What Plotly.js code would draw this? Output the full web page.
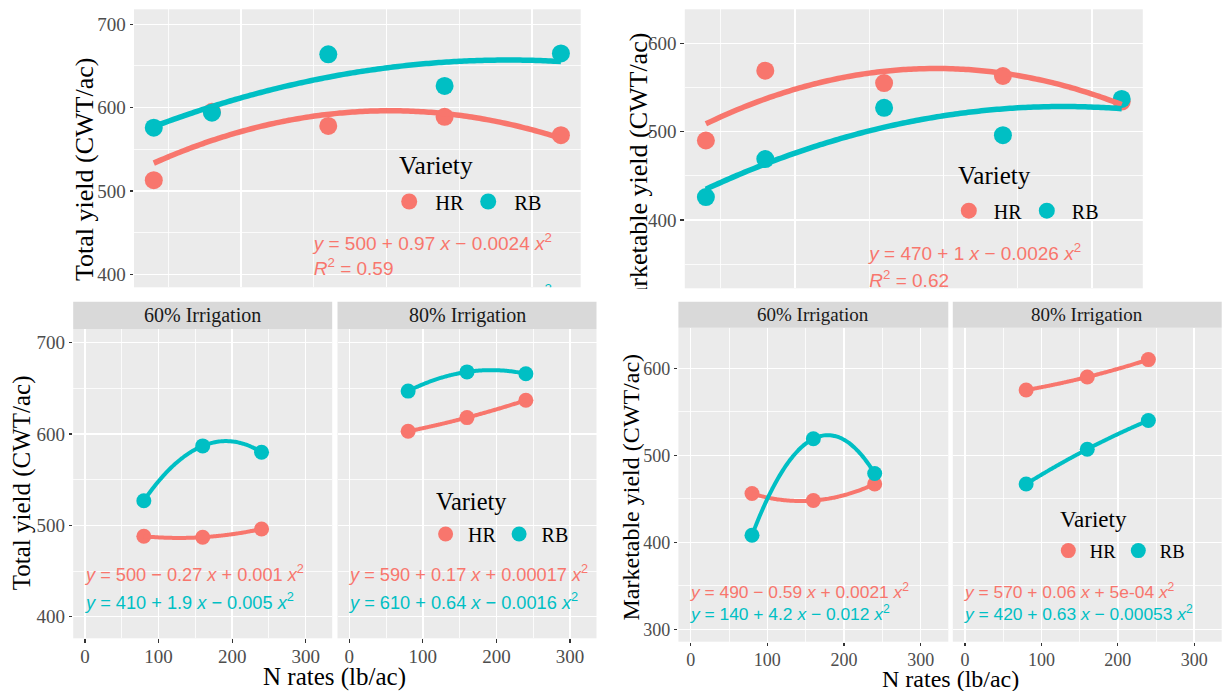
<!DOCTYPE html>
<html><head><meta charset="utf-8">
<script src="https://cdn.plot.ly/plotly-3.0.1.min.js"></script>
<style>
body{margin:0;background:#fff}
#wrap{position:relative;width:1225px;height:691px}
#chart{width:1225px;height:691px}
#mask{position:absolute;left:614px;top:289px;width:50px;height:40px;background:#fff}
</style>
</head><body><div id="wrap"><div id="chart"></div><div id="mask"></div></div>
<script>
// ---------------- data ----------------
const varieties = ['HR', 'RB'];
const topN = [40, 80, 160, 240, 320];
const totalTopHR = [513, 595, 578, 589, 567];
const totalTopRB = [576, 594, 664, 626, 665];
const mktTopHR = [490, 569, 555, 563, 534];
const mktTopRB = [426, 469, 527, 496, 537];
const facetN = [80, 160, 240];
const facetLabels = ['60% Irrigation', '80% Irrigation'];
const totalHR60 = [488, 487, 496];
const totalRB60 = [527, 587, 580];
const totalHR80 = [603, 618, 637];
const totalRB80 = [647, 668, 666];
const mktHR60 = [456, 448, 467];
const mktRB60 = [408, 519, 479];
const mktHR80 = [575, 590, 610];
const mktRB80 = [467, 507, 540];
const eqTotalTop = ['<i>y</i> = 500 + 0.97 <i>x</i> − 0.0024 <i>x</i><sup>2</sup>', '<i>R</i><sup>2</sup> = 0.59', '<i>y</i> = 550 + 0.77 <i>x</i> − 0.0014 <i>x</i><sup>2</sup>'];
const eqMktTop = ['<i>y</i> = 470 + 1 <i>x</i> − 0.0026 <i>x</i><sup>2</sup>', '<i>R</i><sup>2</sup> = 0.62'];
const eqTotal60 = ['<i>y</i> = 500 − 0.27 <i>x</i> + 0.001 <i>x</i><sup>2</sup>', '<i>y</i> = 410 + 1.9 <i>x</i> − 0.005 <i>x</i><sup>2</sup>'];
const eqTotal80 = ['<i>y</i> = 590 + 0.17 <i>x</i> + 0.00017 <i>x</i><sup>2</sup>', '<i>y</i> = 610 + 0.64 <i>x</i> − 0.0016 <i>x</i><sup>2</sup>'];
const eqMkt60 = ['<i>y</i> = 490 − 0.59 <i>x</i> + 0.0021 <i>x</i><sup>2</sup>', '<i>y</i> = 140 + 4.2 <i>x</i> − 0.012 <i>x</i><sup>2</sup>'];
const eqMkt80 = ['<i>y</i> = 570 + 0.06 <i>x</i> + 5e-04 <i>x</i><sup>2</sup>', '<i>y</i> = 420 + 0.63 <i>x</i> − 0.00053 <i>x</i><sup>2</sup>'];

// ---------------- style ----------------
const COL = {HR: '#F8766D', RB: '#00BFC4'};
const SERIF = 'Liberation Serif, Times New Roman, serif';
const SANS = 'Liberation Sans, Arial, sans-serif';
const W = 1225, H = 691;
const pxX = (a, b) => [a / W, b / W];
const pxY = (top, bottom) => [1 - bottom / H, 1 - top / H];

// least squares quadratic fit
function quadFit(xs, ys) {
  const S = [0, 0, 0, 0, 0], T = [0, 0, 0];
  xs.forEach((x, i) => { let p = 1; for (let k = 0; k < 5; k++) { S[k] += p; if (k < 3) T[k] += p * ys[i]; p *= x; } });
  const M = [[S[0], S[1], S[2], T[0]], [S[1], S[2], S[3], T[1]], [S[2], S[3], S[4], T[2]]];
  for (let i = 0; i < 3; i++) {
    for (let j = i + 1; j < 3; j++) {
      const f = M[j][i] / M[i][i];
      for (let k = i; k < 4; k++) M[j][k] -= f * M[i][k];
    }
  }
  const c = [0, 0, 0];
  for (let i = 2; i >= 0; i--) {
    let s = M[i][3];
    for (let k = i + 1; k < 3; k++) s -= M[i][k] * c[k];
    c[i] = s / M[i][i];
  }
  return c;
}
function curve(xs, ys) {
  const c = quadFit(xs, ys);
  const lo = Math.min(...xs), hi = Math.max(...xs);
  const cx = [], cy = [];
  for (let i = 0; i <= 80; i++) { const x = lo + (hi - lo) * i / 80; cx.push(x); cy.push(c[0] + c[1] * x + c[2] * x * x); }
  return {cx, cy};
}

const traces = [];
function panel(xa, ya, xs, hr, rb, ms, lw, legendId, showLeg) {
  traces.push({type: 'scatter', mode: 'markers', x: xs, y: hr, xaxis: xa, yaxis: ya, name: varieties[0],
    marker: {color: COL.HR, size: ms}, legend: legendId, showlegend: showLeg, hoverinfo: 'skip', cliponaxis: true});
  traces.push({type: 'scatter', mode: 'markers', x: xs, y: rb, xaxis: xa, yaxis: ya, name: varieties[1],
    marker: {color: COL.RB, size: ms}, legend: legendId, showlegend: showLeg, hoverinfo: 'skip', cliponaxis: true});
  const c1 = curve(xs, hr), c2 = curve(xs, rb);
  traces.push({type: 'scatter', mode: 'lines', x: c1.cx, y: c1.cy, xaxis: xa, yaxis: ya, line: {color: COL.HR, width: lw, shape: 'spline'}, showlegend: false, hoverinfo: 'skip'});
  traces.push({type: 'scatter', mode: 'lines', x: c2.cx, y: c2.cy, xaxis: xa, yaxis: ya, line: {color: COL.RB, width: lw, shape: 'spline'}, showlegend: false, hoverinfo: 'skip'});
}
panel('x', 'y', topN, totalTopHR, totalTopRB, 18, 5.5, 'legend', true);
panel('x2', 'y2', topN, mktTopHR, mktTopRB, 18, 5.5, 'legend2', true);
panel('x3', 'y3', facetN, totalHR60, totalRB60, 15, 4, 'legend3', true);
panel('x4', 'y4', facetN, totalHR80, totalRB80, 15, 4, 'legend3', false);
panel('x5', 'y5', facetN, mktHR60, mktRB60, 15, 4, 'legend4', true);
panel('x6', 'y6', facetN, mktHR80, mktRB80, 15, 4, 'legend4', false);

// top equation labels (clipped by the cropped panels)
traces.push({type: 'scatter', mode: 'text', x: [150, 150, 150], y: [435, 405, 374], text: eqTotalTop,
  textposition: 'middle right', textfont: {family: SANS, size: 19, color: [COL.HR, COL.HR, COL.RB]},
  xaxis: 'x', yaxis: 'y', showlegend: false, hoverinfo: 'skip', cliponaxis: true});
traces.push({type: 'scatter', mode: 'text', x: [150, 150], y: [360, 330], text: eqMktTop,
  textposition: 'middle right', textfont: {family: SANS, size: 19, color: [COL.HR, COL.HR]},
  xaxis: 'x2', yaxis: 'y2', showlegend: false, hoverinfo: 'skip', cliponaxis: true});

// ---------------- axes ----------------
function ax(domain, range, extra) {
  return Object.assign({
    domain: domain, range: range, dtick: 100, tick0: 0,
    showgrid: true, gridcolor: '#FFFFFF', gridwidth: 1.5, zeroline: false, showline: false,
    ticks: 'outside', ticklen: 3.5, tickwidth: 1.1, tickcolor: '#333333',
    tickfont: {family: SERIF, size: 19, color: '#4D4D4D'},
    minor: {dtick: 50, showgrid: true, gridcolor: '#FFFFFF', gridwidth: 0.8},
    automargin: false, fixedrange: true
  }, extra || {});
}
const noLab = {showticklabels: false, ticks: ''};
const f18 = {family: SERIF, size: 18, color: '#4D4D4D'};

const layout = {
  width: W, height: H, margin: {l: 0, r: 0, t: 0, b: 0, autoexpand: false},
  paper_bgcolor: '#FFFFFF', plot_bgcolor: '#EBEBEB', showlegend: true,
  xaxis: ax(pxX(134, 580.7), [26.4, 333.6], Object.assign({anchor: 'y'}, noLab)),
  yaxis: ax(pxY(9.3, 287.3), [384.4, 718], {anchor: 'x'}),
  xaxis2: ax(pxX(684.8, 1142.8), [25.8, 334.2], Object.assign({anchor: 'y2'}, noLab)),
  yaxis2: ax(pxY(9.3, 288.3), [322.7, 638.5], {anchor: 'x2'}),
  xaxis3: ax(pxX(73.2, 332.2), [-16, 336], {anchor: 'y3', ticklabelstandoff: -3}),
  yaxis3: ax(pxY(329, 638.3), [376.3, 715], {anchor: 'x3'}),
  xaxis4: ax(pxX(337.5, 596.5), [-16, 336], {anchor: 'y4', ticklabelstandoff: -3}),
  yaxis4: ax(pxY(329, 638.3), [376.3, 715], Object.assign({anchor: 'x4'}, noLab)),
  xaxis5: ax(pxX(678.4, 948.3), [-16, 336], {anchor: 'y5', tickfont: f18, ticklabelstandoff: -2}),
  yaxis5: ax(pxY(327.7, 641.7), [285.7, 646.7], {anchor: 'x5', tickfont: f18}),
  xaxis6: ax(pxX(952.8, 1221.7), [-16, 336], {anchor: 'y6', tickfont: f18, ticklabelstandoff: -2}),
  yaxis6: ax(pxY(327.7, 641.7), [285.7, 646.7], Object.assign({anchor: 'x6'}, noLab)),
  shapes: [], annotations: []
};

// legends: items from plotly, title "Variety" placed above them
function leg(iconX, itemY, itemSize, iw, ew) {
  return {
    orientation: 'h', x: (iconX - (iw + 10) / 2) / W, xanchor: 'left', y: 1 - itemY / H, yanchor: 'middle',
    bgcolor: 'rgba(0,0,0,0)', borderwidth: 0, itemwidth: iw, entrywidth: ew, entrywidthmode: 'pixels',
    itemsizing: 'trace', traceorder: 'normal',
    font: {family: SERIF, size: itemSize, color: '#000000'}
  };
}
layout.legend = leg(409.2, 201.7, 20.5, 42, 22);
layout.legend2 = leg(968.8, 210.7, 20, 40, 23);
layout.legend3 = leg(445.6, 534, 20, 35, 23.5);
layout.legend4 = leg(1068.3, 551, 18.6, 33, 22);
function legTitle(x, y, size) {
  layout.annotations.push({xref: 'paper', yref: 'paper', x: x / W, y: 1 - y / H, text: 'Variety', showarrow: false,
    xanchor: 'left', yanchor: 'middle', font: {family: SERIF, size: size, color: '#000000'}});
}
legTitle(396.5, 165.7, 25.5);
legTitle(956, 175.7, 25);
legTitle(433.6, 501, 24.4);
legTitle(1058.3, 519, 23);

// strips
function strip(x0, x1, y0, y1, label, size) {
  layout.shapes.push({type: 'rect', xref: 'paper', yref: 'paper', x0: x0 / W, x1: x1 / W, y0: 1 - y1 / H, y1: 1 - y0 / H,
    fillcolor: '#D9D9D9', line: {width: 0}});
  layout.annotations.push({xref: 'paper', yref: 'paper', x: (x0 + x1) / 2 / W, y: 1 - (y0 + y1) / 2 / H, text: label,
    showarrow: false, xanchor: 'center', yanchor: 'middle', font: {family: SERIF, size: size, color: '#1A1A1A'}});
}
strip(73.2, 332.2, 301.7, 329, facetLabels[0], 20);
strip(337.5, 596.5, 301.7, 329, facetLabels[1], 20);
strip(678.4, 948.3, 301.7, 327.7, facetLabels[0], 19);
strip(952.8, 1221.7, 301.7, 327.7, facetLabels[1], 19);

// axis titles
function title(x, y, text, size, angle) {
  layout.annotations.push({xref: 'paper', yref: 'paper', x: x / W, y: 1 - y / H, text: text, showarrow: false,
    xanchor: 'center', yanchor: 'middle', textangle: angle || 0, font: {family: SERIF, size: size, color: '#000000'}});
}
title(84, 170, 'Total yield (CWT/ac)', 26, -90);
title(638, 177.4, 'Marketable yield (CWT/ac)', 26, -90);
title(22, 483.3, 'Total yield (CWT/ac)', 25, -90);
title(630, 486.5, 'Marketable yield (CWT/ac)', 24, -90);
title(334.9, 677, 'N rates (lb/ac)', 25, 0);
title(950, 679, 'N rates (lb/ac)', 24, 0);

// facet equations
function eqs(xa, ya, labels, ys, size) {
  labels.forEach((t, i) => layout.annotations.push({xref: xa, yref: ya, x: 0, y: ys[i], text: t, showarrow: false,
    xanchor: 'left', yanchor: 'middle', xshift: -3, font: {family: SANS, size: size, color: i === 0 ? COL.HR : COL.RB}}));
}
eqs('x3', 'y3', eqTotal60, [448, 417.5], 18.2);
eqs('x4', 'y4', eqTotal80, [448, 417.5], 18.2);
eqs('x5', 'y5', eqMkt60, [343.7, 318.9], 17.4);
eqs('x6', 'y6', eqMkt80, [343.7, 318.9], 17.4);

Plotly.newPlot('chart', traces, layout, {staticPlot: true, displayModeBar: false});
</script>
</body></html>
